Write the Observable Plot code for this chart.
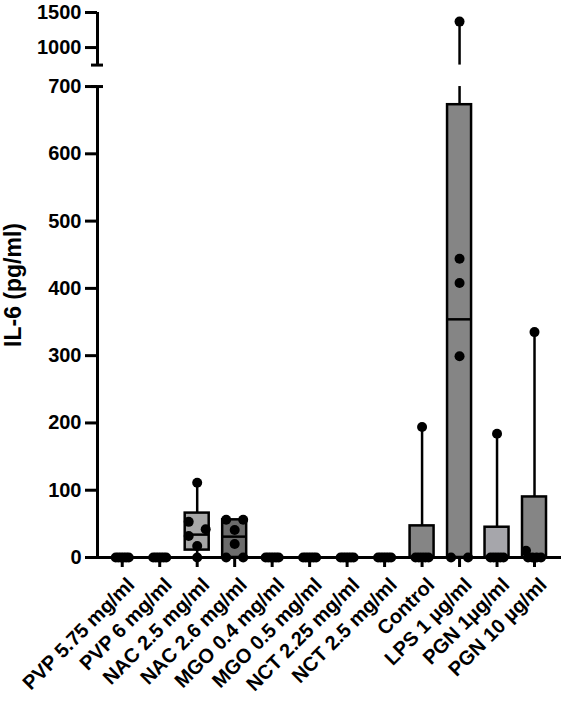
<!DOCTYPE html>
<html><head><meta charset="utf-8">
<script src="https://cdn.jsdelivr.net/npm/d3@7"></script>
<script src="https://cdn.jsdelivr.net/npm/@observablehq/plot@0.6"></script>
<style>body{margin:0;background:#fff}#chart{width:567px;height:703px}</style>
</head><body><div id="chart"></div>
<script>
// ---------- data ----------
const categories = ["PVP 5.75 mg/ml","PVP 6 mg/ml","NAC 2.5 mg/ml","NAC 2.6 mg/ml","MGO 0.4 mg/ml","MGO 0.5 mg/ml","NCT 2.25 mg/ml","NCT 2.5 mg/ml","Control","LPS 1 µg/ml","PGN 1µg/ml","PGN 10 µg/ml"];
const pointValues = [
  [0,0,0,0,0,0],
  [0,0,0,0,0,0],
  [0,17,32,42,53,111],
  [0,0,20,41,56,56],
  [0,0,0,0,0,0],
  [0,0,0,0,0,0],
  [0,0,0,0,0,0],
  [0,0,0,0,0,0],
  [0,0,0,0,0,194],
  [0,0,299,408,444,1370],
  [0,0,0,0,0,184],
  [0,0,0,0,10,335]
];
const mins    = [0,0,0,0,0,0,0,0,0,0,0,0];
const q1s     = [0,0,11,0,0,0,0,0,0,0,0,0];
const medians = [0,0,34,31,0,0,0,0,0,354,0,0];
const q3s     = [0,0,66,56,0,0,0,0,47,673,45,90];
const maxs    = [0,0,111,56,0,0,0,0,194,1370,184,335];
const yTickValues = [0,100,200,300,400,500,600,700,1000,1500];
const yTitle = "IL-6 (pg/ml)";

// ---------- styles / layout ----------
const boxFills = ["#888","#888","#a7a7a7","#6c6c6c","#888","#888","#888","#888","#858585","#858585","#a6a6ab","#858585"];
const W = 567, H = 703, mL = 97, mR = 6, mT = 12, mB = 146;
const xDomain = [-0.66, 11.72];
const stepPx = (W - mL - mR) / (xDomain[1] - xDomain[0]);
const HW = 12 / stepPx;               // half box width in index units
const BREAK_LO = 700, BREAK_HI = 750, TOP = 1500, HI_BASE = 731.9, HI_K = 0.1042;
const disp = v => v <= BREAK_LO ? v : HI_BASE + (v - BREAK_HI) * HI_K;
const yMax = disp(TOP);
const font = "'Liberation Sans', Arial, Helvetica, sans-serif";

function splitSeg(a, b) {
  if (b <= BREAK_LO || a >= BREAK_HI) return [[a, b]];
  return [[a, BREAK_LO], [BREAK_HI, b]];
}

// horizontal spreading of overlapping points (scatter within a column)
function spread(vals) {
  const order = vals.map((v, i) => i).sort((a, b) => vals[a] - vals[b]);
  const groups = [];
  for (const i of order) {
    const g = groups[groups.length - 1];
    if (g && vals[g[0]] === vals[i]) g.push(i); else groups.push([i]);
  }
  const off = new Array(vals.length).fill(0);
  let prevOff = 0;
  groups.forEach((g, k) => {
    if (g.length > 1) {
      const w = g.length === 2 ? 8.5 : 6.5;
      g.forEach((idx, j) => off[idx] = -w + 2 * w * j / (g.length - 1));
      prevOff = 0; return;
    }
    const v = vals[g[0]], prev = groups[k - 1], next = groups[k + 1];
    const closePrev = prev && v - vals[prev[0]] < 12;
    const closeNext = next && vals[next[0]] - v < 12;
    let o = 0;
    if (closePrev) o = prevOff < 0 ? 8.5 : -8.5;
    else if (closeNext) o = -8.5;
    off[g[0]] = o; prevOff = o;
  });
  return off;
}

const boxes = categories.map((c, i) => ({i, cat: c, q1: q1s[i], q3: q3s[i], med: medians[i]}));
const whiskers = [];
categories.forEach((c, i) => {
  if (q3s[i] < maxs[i]) splitSeg(q3s[i], maxs[i]).forEach(([a, b]) => whiskers.push({i, a, b}));
  if (mins[i] < q1s[i]) splitSeg(mins[i], q1s[i]).forEach(([a, b]) => whiskers.push({i, a, b}));
});
const points = [];
pointValues.forEach((vals, i) => {
  const off = spread(vals);
  vals.forEach((v, j) => points.push({i, v, off: off[j]}));
});
const axisSegs = [[0, BREAK_LO], [BREAK_HI, TOP]];
const tickLabel = new Map(yTickValues.map(v => [Math.round(disp(v) * 1000), String(v)]));
const x0 = xDomain[0];

const chart = Plot.plot({
  width: W, height: H,
  marginLeft: mL, marginRight: mR, marginTop: mT, marginBottom: mB,
  style: {fontFamily: font, fontWeight: "bold", color: "#000", background: "#fff"},
  x: {domain: xDomain, axis: null},
  y: {domain: [0, yMax], axis: null},
  color: {domain: categories, range: boxFills},
  marks: [
    // x axis line
    Plot.ruleY([0], {stroke: "#000", strokeWidth: 3}),
    // broken y axis line
    Plot.ruleX(axisSegs, {x: () => x0, y1: d => disp(d[0]), y2: d => disp(d[1]), stroke: "#000", strokeWidth: 3}),
    Plot.ruleY([BREAK_LO, BREAK_HI], {y: d => disp(d), x1: () => x0 - 6 / stepPx, x2: () => x0 + 6 / stepPx, stroke: "#000", strokeWidth: 3}),
    // y ticks and labels
    Plot.axisY({
      ticks: yTickValues.map(disp),
      tickFormat: d => tickLabel.get(Math.round(d * 1000)),
      tickSize: 12, tickPadding: 4, strokeWidth: 3, fontSize: 20, fontWeight: "bold", label: null
    }),
    // x ticks
    Plot.axisX({ticks: d3.range(categories.length), tickSize: 10, strokeWidth: 3, tickFormat: () => "", label: null}),
    // boxes
    Plot.rectY(boxes, {x1: d => d.i - HW, x2: d => d.i + HW, y1: d => disp(d.q1), y2: d => disp(d.q3), fill: "cat", stroke: "#000", strokeWidth: 2.5}),
    Plot.ruleY(boxes.filter(d => d.q3 > d.q1), {y: d => disp(d.med), x1: d => d.i - HW, x2: d => d.i + HW, stroke: "#000", strokeWidth: 2.5}),
    // whiskers
    Plot.ruleX(whiskers, {x: "i", y1: d => disp(d.a), y2: d => disp(d.b), stroke: "#000", strokeWidth: 2.5}),
    // individual points
    Plot.dot(points, {x: d => d.i + d.off / stepPx, y: d => disp(d.v), r: 5, fill: "#000", stroke: "none"}),
    // category labels
    Plot.text(categories, {x: (d, i) => i, y: () => 0, text: d => d, rotate: -45, textAnchor: "end", dx: 9, dy: 24, fontSize: 20, fontWeight: "bold", fill: "#000"}),
    // y title
    Plot.text([yTitle], {frameAnchor: "left", textAnchor: "middle", rotate: -90, dx: -84, text: d => d, fontSize: 23, fontWeight: "bold", fill: "#000"})
  ]
});
document.getElementById("chart").appendChild(chart);
</script>
</body></html>
